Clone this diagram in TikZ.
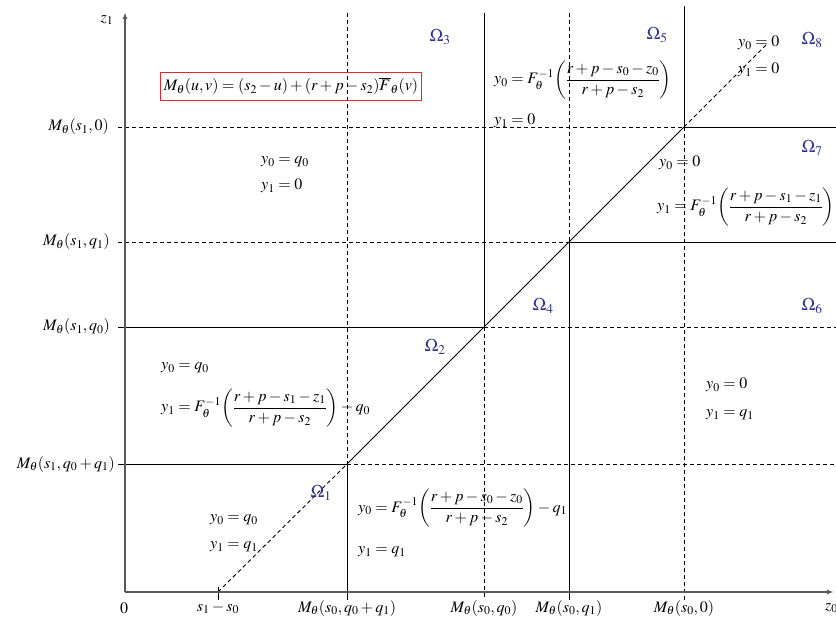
\documentclass[tikz,border=0pt]{standalone}
\usepackage{amsmath}
\usepackage{mathptmx}
\usepackage{tikz}
\usetikzlibrary{arrows.meta}
\definecolor{omega}{HTML}{2E3192}
\definecolor{boxred}{HTML}{E8262B}
\definecolor{axisgray}{HTML}{5A5A5A}
\tikzset{
  axis/.style={axisgray, line width=1.4pt},
  bound/.style={black, line width=0.9pt},
  guide/.style={black, line width=0.9pt, dash pattern=on 4pt off 3pt},
  lbl/.style={font=\fontsize{16}{19}\selectfont, inner sep=1pt},
  reg/.style={omega, font=\fontsize{18}{21}\selectfont, inner sep=1pt},
}

\begin{document}
\begin{tikzpicture}[x=1pt, y=-1pt, >={Latex[length=7pt,width=5pt]}]
    \useasboundingbox (0,0) rectangle (836,620);
    % grid corners on the diagonal
    \coordinate (P1) at (347,464);
    \coordinate (P2) at (484,327);
    \coordinate (P3) at (569,242);
    \coordinate (P4) at (684,127);
    % line ends
    \coordinate (lA) at (118,127); \coordinate (rA) at (836,127);
    \coordinate (lB) at (118,242); \coordinate (rB) at (836,242);
    \coordinate (lC) at (118,327); \coordinate (rC) at (836,327);
    \coordinate (lD) at (118,464); \coordinate (rD) at (836,464);
    \coordinate (tb) at (347,13);  \coordinate (bb) at (347,600);
    \coordinate (tc) at (484,13);  \coordinate (bc) at (484,600);
    \coordinate (td) at (569,13);  \coordinate (bd) at (569,600);
    \coordinate (te) at (684,6);   \coordinate (be) at (684,600);
    \coordinate (S) at (218,592);  \coordinate (ta) at (218,587); \coordinate (ba) at (218,600);
    \coordinate (T) at (768,43);
    % horizontal lines
    \draw[guide] (lA) -- (P4); \draw[bound] (P4) -- (rA);
    \draw[guide] (lB) -- (P3); \draw[bound] (P3) -- (rB);
    \draw[bound] (lC) -- (P2); \draw[guide] (P2) -- (rC);
    \draw[bound] (lD) -- (P1); \draw[guide] (P1) -- (rD);
    % vertical lines
    \draw[guide] (tb) -- (P1); \draw[bound] (P1) -- (bb);
    \draw[bound] (tc) -- (P2); \draw[guide] (P2) -- (bc);
    \draw[guide] (td) -- (P3); \draw[bound] (P3) -- (bd);
    \draw[bound] (te) -- (P4); \draw[guide] (P4) -- (be);
    \draw[bound] (ta) -- (ba);
    % diagonal
    \draw[guide] (S) -- (P1);
    \draw[bound] (P1) -- (P4);
    \draw[guide] (P4) -- (T);
    % axes
    \coordinate (O) at (125,592);
    \coordinate (xend) at (834,592);
    \coordinate (yend) at (125,12);
    \draw[axis,->] (O) -- (xend);
    \draw[axis,->] (O) -- (yend);
    \node[lbl] (zone) at (107,20) {$z_1$};
    \node[lbl, anchor=west] (zzero) at (824,608) {$z_0$};
    \node[lbl] (orig) at (124,608) {$0$};
    \node[lbl] (xa) at (218,608) {$s_1-s_0$};
    \node[lbl] (xb) at (347,608) {$M_\theta(s_0,q_0+q_1)$};
    \node[lbl] (xc) at (484,608) {$M_\theta(s_0,q_0)$};
    \node[lbl] (xd) at (569,608) {$M_\theta(s_0,q_1)$};
    \node[lbl] (xe) at (684,608) {$M_\theta(s_0,0)$};
    \node[lbl, anchor=east] (ya) at (110,127) {$M_\theta(s_1,0)$};
    \node[lbl, anchor=east] (yb) at (111,242) {$M_\theta(s_1,q_1)$};
    \node[lbl, anchor=east] (yc) at (111,327) {$M_\theta(s_1,q_0)$};
    \node[lbl, anchor=east] (yd) at (116,464) {$M_\theta(s_1,q_0+q_1)$};
    % definition box
    \node[lbl, draw=boxred, line width=0.9pt, inner sep=3pt, minimum height=28pt] (mdef) at (291,86)
        {$M_\theta(u,v)=(s_2-u)+(r+p-s_2)\overline{F}_\theta(v)$};
    % region names
    \node[reg] (om1) at (321,493) {$\Omega_1$};
    \node[reg] (om2) at (435,347) {$\Omega_2$};
    \node[reg] (om3) at (440,37) {$\Omega_3$};
    \node[reg] (om4) at (543,306) {$\Omega_4$};
    \node[reg] (om5) at (657,35) {$\Omega_5$};
    \node[reg] (om6) at (812,306) {$\Omega_6$};
    \node[reg] (om7) at (812,148) {$\Omega_7$};
    \node[reg] (om8) at (812,40) {$\Omega_8$};
    % solutions per region
    \node[lbl, anchor=west] (ra0) at (260,162) {$y_0=q_0$};
    \node[lbl, anchor=west] (ra1) at (260,186) {$y_1=0$};
    \node[lbl, anchor=west] (rb0) at (493,80)
        {$y_0=F_\theta^{-1}\!\left(\dfrac{r+p-s_0-z_0}{r+p-s_2}\right)$};
    \node[lbl, anchor=west] (rb1) at (493,121) {$y_1=0$};
    \node[lbl, anchor=west] (rc0) at (737,43) {$y_0=0$};
    \node[lbl, anchor=west] (rc1) at (737,70) {$y_1=0$};
    \node[lbl, anchor=west] (rd0) at (658,163) {$y_0=0$};
    \node[lbl, anchor=west] (rd1) at (656,207)
        {$y_1=F_\theta^{-1}\!\left(\dfrac{r+p-s_1-z_1}{r+p-s_2}\right)$};
    \node[lbl, anchor=west] (re0) at (160,368) {$y_0=q_0$};
    \node[lbl, anchor=west] (re1) at (160,408)
        {$y_1=F_\theta^{-1}\!\left(\dfrac{r+p-s_1-z_1}{r+p-s_2}\right)-q_0$};
    \node[lbl, anchor=west] (rf0) at (705,385) {$y_0=0$};
    \node[lbl, anchor=west] (rf1) at (705,415) {$y_1=q_1$};
    \node[lbl, anchor=west] (rg0) at (209,520) {$y_0=q_0$};
    \node[lbl, anchor=west] (rg1) at (209,547) {$y_1=q_1$};
    \node[lbl, anchor=west] (rh0) at (357,508)
        {$y_0=F_\theta^{-1}\!\left(\dfrac{r+p-s_0-z_0}{r+p-s_2}\right)-q_1$};
    \node[lbl, anchor=west] (rh1) at (357,552) {$y_1=q_1$};
\end{tikzpicture}
\end{document}
